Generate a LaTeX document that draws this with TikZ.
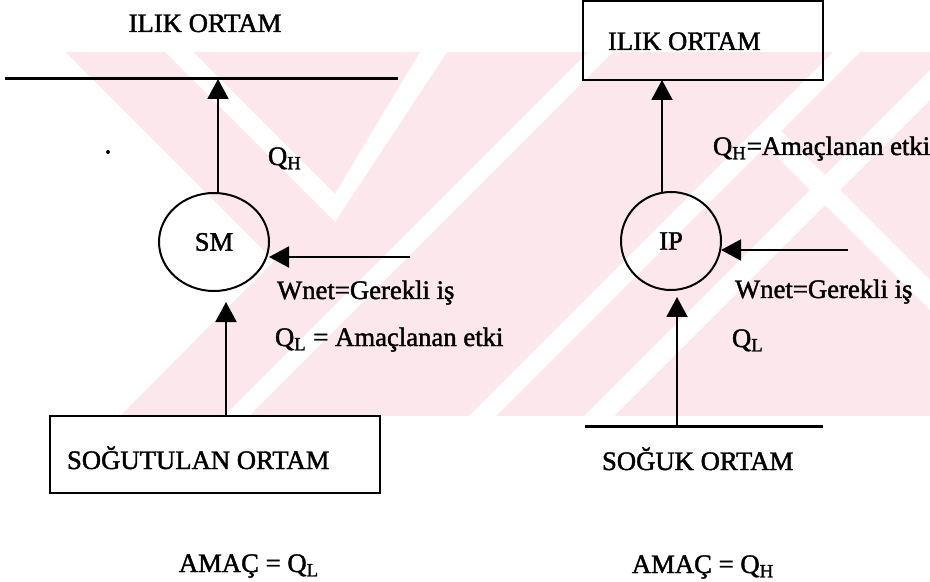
\documentclass[tikz,border=0pt]{standalone}
\usepackage{fontspec}
\setmainfont{Liberation Serif}
\newfontfamily\scanfont{Liberation Serif}[FakeBold=1.6]
\usetikzlibrary{arrows.meta,shapes.geometric}
\definecolor{wmpink}{RGB}{252,231,236}
\begin{document}
\begin{tikzpicture}[x=0.5pt,y=-0.5pt,
  txt/.style={font=\scanfont\fontsize{13.35pt}{16pt}\selectfont, inner sep=0pt, outer sep=0pt},
  lbl/.style={txt, anchor=base west},
  ctr/.style={txt, anchor=base},
  boxnode/.style={draw, line width=1.2pt, inner sep=0pt, outer sep=0pt},
  oval/.style={draw, ellipse, line width=1pt, inner sep=0pt, outer sep=0pt, font=\scanfont\fontsize{13.35pt}{16pt}\selectfont},
  arr/.style={line width=1pt, -{Triangle[length=10pt,width=10.5pt]}},
  wall/.style={line width=1.5pt}
]
\useasboundingbox (0,0) rectangle (930,582);
% watermark
\begin{scope}
\clip (65,52) rectangle (930,416);
\fill[wmpink] (65,52) rectangle (930,416);
\fill[white] (65,52) -- (274,261) -- (120,416) -- (65,416) -- cycle;
\fill[white] (165,52) -- (335,222) -- (447,52) -- (420,52) -- (335,194) -- (193,52) -- cycle;
\fill[white] (640,0) -- (665,0) -- (249,416) -- (224,416) -- cycle;
\fill[white] (885,0) -- (912,0) -- (496,416) -- (469,416) -- cycle;
\fill[white] (1000,0) -- (1030,0) -- (614,416) -- (584,416) -- cycle;
\fill[white] (780,130) -- (930,280) -- (930,310) -- (765,145) -- cycle;
\end{scope}
% left diagram
\node[ctr] (hotLtxt) at (205,32) {ILIK ORTAM};
\coordinate (hotL1) at (5,79);
\coordinate (hotL2) at (398,79);
\draw[wall] (hotL1) -- (hotL2);
\node[oval, minimum width=55pt, minimum height=49pt] (SM) at (214,242) {SM};
\draw[arr] ([xshift=2pt]SM.north) -- ([xshift=2pt]SM.north |- hotL1);
\node[lbl] (qhL) at (268,165) {Q\textsubscript{H}};
\coordinate (wStartL) at (410,257);
\draw[arr] (wStartL) -- (wStartL -| SM.east);
\node[lbl] (wL) at (277,299) {Wnet=Gerekli iş};
\node[lbl] (qlL) at (275,346) {Q\textsubscript{L} = Amaçlanan etki};
\node[boxnode, minimum width=165pt, minimum height=38.5pt] (coldbox) at (215,454.5) {};
\node[lbl] (coldLtxt) at (67,469) {SOĞUTULAN ORTAM};
\coordinate (smIn) at (226,302);
\draw[arr] (coldbox.north -| smIn) -- (smIn);
\node[ctr] (goalL) at (249,572) {AMAÇ = Q\textsubscript{L}};
\fill (108,152) circle (1pt);
% right diagram
\node[boxnode, minimum width=120pt, minimum height=39.5pt] (hotbox) at (703,40.5) {};
\node[lbl] (hotRtxt) at (608,50) {ILIK ORTAM};
\node[oval, minimum width=50pt, minimum height=49pt] (IP) at (671,241) {IP};
\draw[arr] ([xshift=-4.5pt]IP.north) -- ([xshift=-4.5pt]IP.north |- hotbox.south);
\node[lbl] (qhR) at (713,155) {Q\textsubscript{H}=Amaçlanan etki};
\coordinate (wStartR) at (848,250);
\draw[arr] (wStartR) -- (wStartR -| IP.east);
\node[lbl] (wR) at (735,298) {Wnet=Gerekli iş};
\node[lbl] (qlR) at (732,347) {Q\textsubscript{L}};
\coordinate (coldL1) at (585,426);
\coordinate (coldL2) at (823,426);
\draw[wall] (coldL1) -- (coldL2);
\coordinate (ipIn) at (677,297);
\draw[arr] (ipIn |- coldL1) -- (ipIn);
\node[lbl] (coldRtxt) at (602,470) {SOĞUK ORTAM};
\node[ctr] (goalR) at (703,573) {AMAÇ = Q\textsubscript{H}};
\end{tikzpicture}
\end{document}
